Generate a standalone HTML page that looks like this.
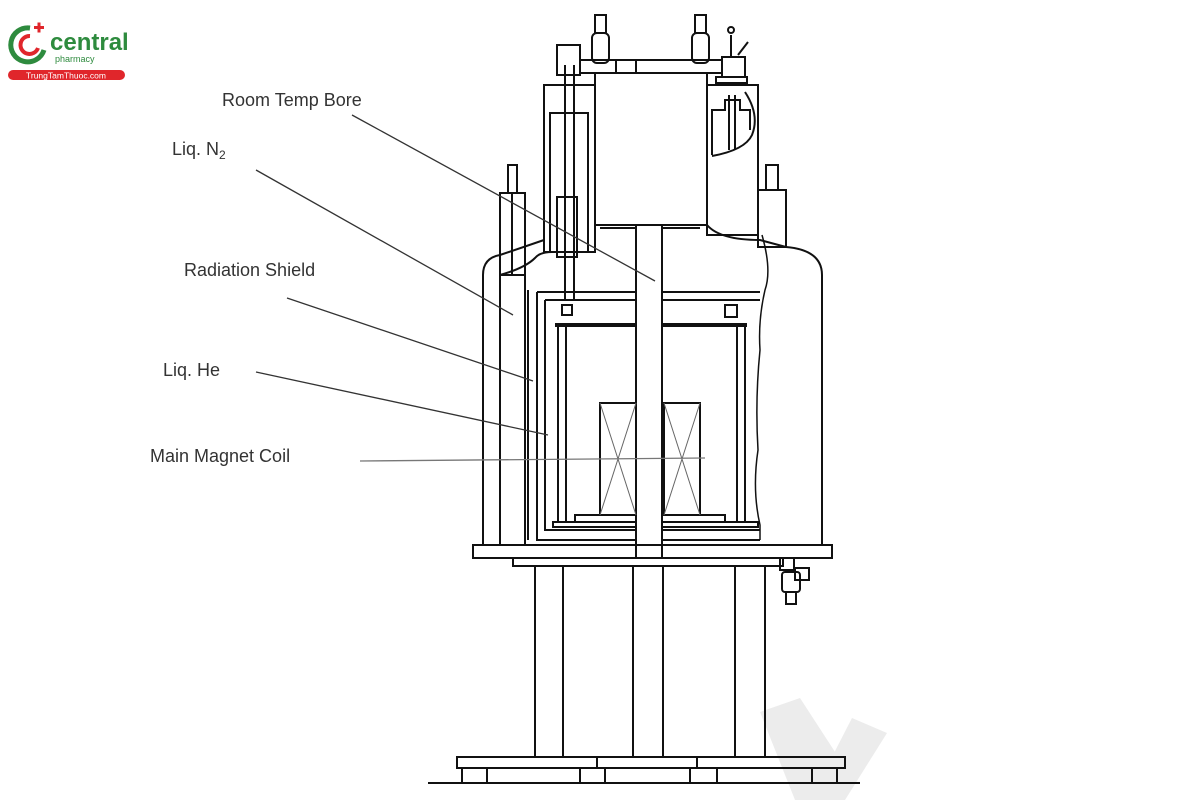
<!DOCTYPE html>
<html><head><meta charset="utf-8"><style>
html,body{margin:0;padding:0;background:#fff}
svg{display:block}
text{font-family:"Liberation Sans",sans-serif}
</style></head><body>
<svg width="1200" height="800" viewBox="0 0 1200 800" xmlns="http://www.w3.org/2000/svg">
<!-- watermark -->
<polygon points="760,712 800,698 850,775 830,800 795,800" fill="#ececec"/>
<polygon points="815,790 852,718 887,733 845,800 820,800" fill="#ececec"/>
<!-- logo -->
<path d="M30,28 A17,17 0 1,0 44,50" fill="none" stroke="#2e8b3e" stroke-width="5"/>
<path d="M30,36 A9,9 0 1,0 38,48" fill="none" stroke="#e0262b" stroke-width="4"/>
<rect x="34" y="26" width="10" height="3" fill="#e0262b"/><rect x="37.5" y="22.5" width="3" height="10" fill="#e0262b"/>
<text x="50" y="50" font-size="24" fill="#2e8b3e" font-weight="bold">central</text>
<text x="55" y="62" font-size="9" fill="#2e8b3e">pharmacy</text>
<rect x="8" y="70" width="117" height="10" rx="5" fill="#e0262b"/>
<text x="66" y="78.5" font-size="8.5" fill="#fff" text-anchor="middle">TrungTamThuoc.com</text>

<g fill="none" stroke="#111" stroke-width="2">
<!-- top valves -->
<rect x="595" y="15" width="11" height="18"/><rect x="592" y="33" width="17" height="30" rx="5"/>
<rect x="695" y="15" width="11" height="18"/><rect x="692" y="33" width="17" height="30" rx="5"/>
<line x1="731" y1="57" x2="731" y2="35"/><circle cx="731" cy="30" r="3"/><line x1="738" y1="55" x2="748" y2="42"/>
<rect x="557" y="45" width="23" height="30"/>
<!-- top bar -->
<rect x="580" y="60" width="142" height="13"/><rect x="616" y="60" width="20" height="13"/>
<rect x="722" y="57" width="23" height="20"/><rect x="716" y="77" width="31" height="6"/>
<!-- left tower -->
<rect x="544" y="85" width="51" height="167"/><rect x="550" y="113" width="38" height="139"/>
<line x1="565" y1="65" x2="565" y2="300"/><line x1="574" y1="65" x2="574" y2="300"/>
<rect x="557" y="197" width="20" height="60"/>
<!-- center box -->
<rect x="595" y="73" width="112" height="152"/>
<!-- right tower -->
<rect x="707" y="85" width="51" height="150"/>
<path d="M712,155 L712,110 L725,110 L725,100 L740,100 L740,110 L750,110 L750,130"/>
<line x1="729" y1="95" x2="729" y2="150"/><line x1="735" y1="95" x2="735" y2="150"/>
<path d="M712,156 Q745,150 752,135 Q760,115 745,92"/>
<!-- small cylinders -->
<rect x="508" y="165" width="9" height="28"/><rect x="500" y="193" width="25" height="82"/>
<line x1="512" y1="193" x2="512" y2="275"/>
<rect x="766" y="165" width="12" height="25"/><rect x="758" y="190" width="28" height="57"/>
<!-- main body outer -->
<path d="M483,545 L483,275 Q483,258 500,255 L544,240"/>
<path d="M500,275 Q525,268 535,258 Q540,252 552,252"/>
<path d="M707,225 Q720,240 760,240 L786,247 Q822,250 822,275 L822,545"/>
<path d="M595,225 L707,225 M600,228 L700,228"/>
<line x1="500" y1="275" x2="500" y2="545"/>
<rect x="500" y="275" width="25" height="270"/>
<line x1="528" y1="290" x2="528" y2="540"/>
<path d="M537,292 L760,292 M537,292 L537,540 L760,540"/>
<path d="M545,300 L760,300 M545,300 L545,530 L760,530"/>
<path d="M555,325 L747,325" stroke-width="4"/>
<line x1="558" y1="325" x2="558" y2="522"/><line x1="566" y1="325" x2="566" y2="522"/>
<line x1="737" y1="325" x2="737" y2="522"/><line x1="745" y1="325" x2="745" y2="522"/>
<rect x="562" y="305" width="10" height="10"/><rect x="725" y="305" width="12" height="12"/>
<rect x="553" y="522" width="205" height="5"/>
<rect x="575" y="515" width="150" height="7"/>
<!-- coils -->
<rect x="600" y="403" width="36" height="112"/><rect x="664" y="403" width="36" height="112"/>
<!-- wavy cutaway -->
<path d="M762,235 Q772,270 765,290 Q758,320 760,350 Q755,400 758,450 Q752,490 760,525 L760,540" stroke-width="1.5"/>
<!-- bore -->
<rect x="636" y="225" width="26" height="333" fill="#fff"/>
<!-- base -->
<rect x="473" y="545" width="359" height="13"/>
<rect x="513" y="558" width="270" height="8"/>
<rect x="780" y="558" width="14" height="12"/><rect x="795" y="568" width="14" height="12"/><rect x="782" y="572" width="18" height="20" rx="3"/><rect x="786" y="592" width="10" height="12"/>
<!-- legs -->
<line x1="535" y1="566" x2="535" y2="757"/><line x1="563" y1="566" x2="563" y2="757"/>
<line x1="633" y1="566" x2="633" y2="757"/><line x1="663" y1="566" x2="663" y2="757"/>
<line x1="735" y1="566" x2="735" y2="757"/><line x1="765" y1="566" x2="765" y2="757"/>
<rect x="457" y="757" width="140" height="11"/><rect x="597" y="757" width="100" height="11"/><rect x="697" y="757" width="148" height="11"/>
<path d="M462,768V783M487,768V783M580,768V783M605,768V783M690,768V783M717,768V783M812,768V783M837,768V783"/>
<line x1="428" y1="783" x2="860" y2="783"/>
</g>
<g stroke="#666" stroke-width="1" fill="none">
<path d="M600,403 L636,515 M636,403 L600,515 M664,403 L700,515 M700,403 L664,515"/>
</g>
<!-- leader lines -->
<g stroke="#333" stroke-width="1.3">
<line x1="352" y1="115" x2="655" y2="281"/>
<line x1="256" y1="170" x2="513" y2="315"/>
<line x1="287" y1="298" x2="533" y2="381"/>
<line x1="256" y1="372" x2="548" y2="435"/>
<line x1="360" y1="461" x2="705" y2="458" stroke="#777"/>
</g>
<g font-size="18" fill="#333">
<text x="222" y="106">Room Temp Bore</text>
<text x="172" y="155">Liq. N<tspan font-size="12" dy="4">2</tspan></text>
<text x="184" y="276">Radiation Shield</text>
<text x="163" y="376">Liq. He</text>
<text x="150" y="462">Main Magnet Coil</text>
</g>
</svg>
</body></html>
